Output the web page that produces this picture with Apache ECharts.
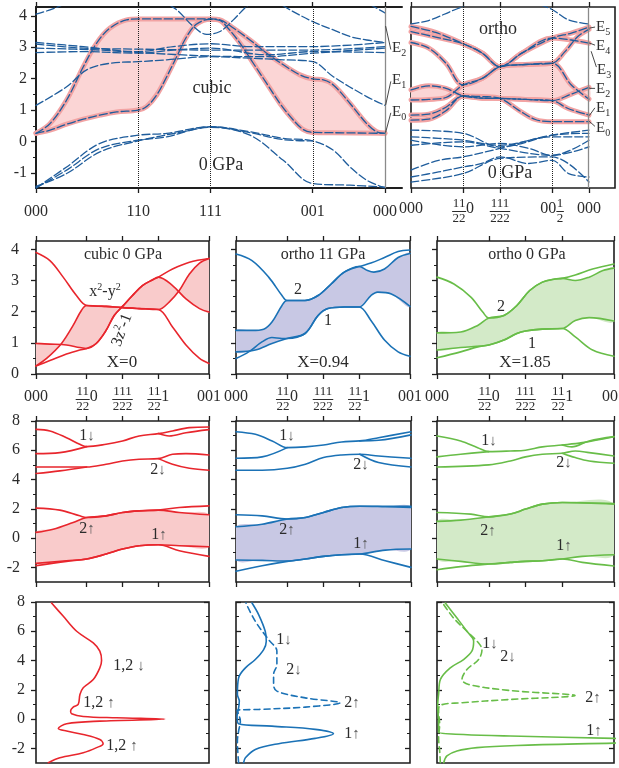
<!DOCTYPE html>
<html><head><meta charset="utf-8">
<script src="https://cdn.jsdelivr.net/npm/echarts@6/dist/echarts.min.js"></script>
<style>html,body{margin:0;padding:0;background:#fff}#c{width:619px;height:768px}</style>
</head><body><div id="c"></div>
<script>
// ---------- axes / ticks ----------
const nodesC = [0, 1.414, 2.414, 3.828, 4.828];
const labelsC = ['000', '110', '111', '001', '000'];
const nodesO = [0, 0.707, 1.207, 1.914, 2.414];
const labelsO = ['000', '½½0', '½½½', '00½', '000'];
const nodesK = [0, 0.707, 1.207, 1.707, 2.414];
const labelsK = ['000', '½½0', '½½½', '½½1', '001'];
const yTicks1 = [-1, 0, 1, 2, 3, 4];
const yTicks2 = [0, 1, 2, 3, 4];
const yTicks3 = [-2, 0, 2, 4, 6, 8];

// ---------- row 1: cubic 0 GPa ----------
const cubUp = [[0,0.26],[0.194,0.57],[0.424,1.32],[0.655,2.38],[0.839,3.13],[1.024,3.61],[1.254,3.87],[1.414,3.90],[1.9,3.90],[2.414,3.90],[2.545,3.87],[2.73,3.61],[2.96,3.23],[3.191,2.81],[3.421,2.44],[3.652,2.12],[3.828,1.99],[3.975,1.96],[4.113,1.80],[4.344,1.21],[4.574,0.57],[4.712,0.31],[4.828,0.26]];
const cubLo = [[0,0.26],[0.194,0.36],[0.424,0.55],[0.655,0.71],[0.885,0.84],[1.116,0.94],[1.414,1.00],[1.53,1.11],[1.669,1.48],[1.808,2.06],[1.946,2.70],[2.085,3.34],[2.223,3.74],[2.414,3.89],[2.545,3.85],[2.637,3.66],[2.822,3.13],[3.006,2.49],[3.191,1.85],[3.375,1.21],[3.56,0.68],[3.698,0.38],[3.828,0.29],[4.113,0.28],[4.828,0.26]];
const cubD1 = [[0,4.05],[0.194,4.19],[0.424,4.4],[0.56,4.56]];
const cubD2 = [[1.715,4.51],[1.946,4.19],[2.177,3.66],[2.361,3.41],[2.545,3.5],[2.73,3.87],[2.914,4.3],[3.053,4.51]];
const cubD3 = [[3.283,4.51],[3.514,4.19],[3.823,3.82],[4.113,3.55],[4.344,3.34],[4.574,3.23],[4.828,3.15]];
const cubD4 = [[4.482,4.51],[4.666,4.30],[4.828,4.09]];
const cubG1 = [[0,3.15],[0.655,3.02],[1.414,2.86],[1.9,3.02],[2.414,3.11],[2.96,3.02],[3.828,3.02],[4.828,3.15]];
const cubG2 = [[0,3.10],[0.655,2.97],[1.414,2.94],[2.414,2.91],[3.191,2.91],[3.828,2.91],[4.828,3.02]];
const cubG3 = [[0,2.97],[0.885,2.91],[1.414,2.83],[2.414,2.72],[3.191,2.70],[3.828,2.81],[4.828,2.97]];
const cubG4 = [[0,2.83],[0.655,2.86],[1.414,2.81],[1.9,2.91],[2.414,2.97],[3.191,2.76],[3.828,2.86],[4.828,2.83]];
const cubB = [[0,1.15],[0.424,1.74],[0.701,2.28],[1.024,2.49],[1.414,2.54],[1.808,2.6],[2.414,2.7],[2.96,2.65],[3.421,2.6],[3.828,2.54],[4.113,2.06],[4.574,1.43],[4.828,1.15]];
const cubL1 = [[0,-1.48],[0.424,-0.81],[0.885,-0.06],[1.414,0.2],[1.808,0.26],[2.414,0.47],[2.96,0.31],[3.421,0.1],[3.828,0.02],[4.113,-0.28],[4.344,-0.81],[4.574,-1.23],[4.828,-1.48]];
const cubL2 = [[0,-1.48],[0.424,-0.91],[0.885,-0.22],[1.414,0.04],[1.808,0.15],[2.414,0.47],[2.96,0.28],[3.421,0.06],[3.828,0.02]];
const cubL3 = [[0,-1.43],[0.424,-1.02],[0.885,-0.33],[1.414,0.02],[2.038,0.31],[2.414,0.45],[2.96,0.2],[3.421,-0.6],[3.828,-1.34],[4.344,-1.39],[4.828,-1.45]];
const cubLead = [[[4.838,3.66],[4.907,2.94]], [[4.838,1.17],[4.907,1.9]], [[4.838,0.3],[4.907,0.9]]];

// ---------- row 1: ortho 0 GPa ----------
const ortA = [[0,3.66],[0.335,3.47],[0.707,3.11],[0.968,2.81],[1.207,2.38],[1.503,2.81],[1.914,3.29],[2.175,3.45],[2.414,3.64]];
const ortB = [[0,3.5],[0.335,3.32],[0.707,3.11],[0.968,2.81],[1.207,2.38],[1.503,2.81],[1.914,3.29],[2.175,3.23],[2.414,3.13]];
const ortC = [[0,3.15],[0.242,2.97],[0.474,2.49],[0.707,1.80],[0.968,2.01],[1.207,2.38],[1.549,2.45],[1.914,2.49],[2.088,2.86],[2.262,3.34],[2.414,3.57]];
const ortU = [[0,1.64],[0.242,1.77],[0.474,1.69],[0.707,1.45],[0.968,1.38],[1.207,1.37],[1.549,1.34],[1.914,1.30],[2.175,1.51],[2.414,1.72]];
const ortV = [[0,1.32],[0.242,1.34],[0.474,1.40],[0.707,1.80],[0.968,2.01],[1.207,2.38],[1.549,2.45],[1.914,2.49],[2.175,1.80],[2.414,1.35]];
const ortE = [[0,0.84],[0.242,0.87],[0.474,1.09],[0.707,1.45],[0.968,1.43],[1.207,1.37],[1.458,1.0],[1.686,0.70],[1.914,0.63],[2.175,0.63],[2.414,0.63]];
const ortF = [[0,0.68],[0.242,0.71],[0.474,0.98],[0.707,1.45],[0.968,1.38],[1.207,1.37],[1.549,1.34],[1.914,1.30],[2.131,1.05],[2.414,0.84]];
const ortD1 = [[0,0.36],[0.707,0.26],[1.207,-0.17],[1.914,0.20],[2.414,0.36]];
const ortD2 = [[0,0.15],[0.374,0.10],[0.707,0.04],[1.207,-0.12],[1.914,0.15],[2.414,0.15]];
const ortD3 = [[0,0.04],[0.707,-0.17],[1.207,-0.06],[1.595,-0.22],[1.914,-0.44],[2.414,0.04]];
const ortD4 = [[0,-0.12],[0.707,-0.01],[1.207,-0.22],[1.914,-0.44],[2.414,-0.17]];
const ortD5 = [[0,-0.91],[0.374,-0.60],[0.707,-0.49],[1.207,-0.22],[1.914,0.20],[2.414,0.26]];
const ortD6 = [[0,-1.13],[0.374,-0.97],[0.707,-0.81],[0.959,-0.70],[1.207,-0.49],[1.595,-0.70],[1.914,-0.60],[2.138,-1.02],[2.414,-1.13]];
const ortD7 = [[0,-1.29],[0.707,-1.02],[1.207,-0.54],[1.914,-0.49],[2.414,-1.29]];
const ortT1 = [[0,3.74],[0.24,3.85],[0.55,4.15],[0.707,4.3]];
const ortT2 = [[1.75,4.35],[1.914,4.2],[2.138,3.87],[2.414,3.74]];
const ortLead = [[[2.424,3.61],[2.491,3.64]], [[2.424,3.13],[2.491,3.07]], [[2.445,2.86],[2.513,2.38]], [[2.424,1.69],[2.491,1.69]], [[2.424,0.84],[2.491,1.06]], [[2.424,0.63],[2.491,0.49]]];

// ---------- row 2 ----------
const redA = [[0,3.90],[0.194,3.64],[0.379,3.11],[0.564,2.52],[0.707,2.20],[0.978,2.17],[1.207,2.13],[1.439,2.10],[1.707,2.07],[1.905,1.51],[2.093,0.93],[2.282,0.50],[2.414,0.34]];
const redX = [[0,0.26],[0.148,0.50],[0.356,0.98],[0.518,1.56],[0.633,2.04],[0.707,2.20],[0.978,2.17],[1.207,2.13],[1.439,2.10],[1.707,2.07],[1.858,2.31],[1.999,2.68],[2.141,3.21],[2.282,3.56],[2.414,3.71]];
const redZ = [[0,0.98],[0.194,0.96],[0.425,0.93],[0.61,0.85],[0.707,0.82],[0.84,0.98],[0.978,1.40],[1.091,1.88],[1.207,2.17],[1.346,2.52],[1.485,2.84],[1.624,3.02],[1.707,3.11],[1.905,2.84],[2.093,2.41],[2.282,2.10],[2.414,1.99]];
const redC = [[0,0.26],[0.194,0.43],[0.425,0.64],[0.61,0.77],[0.707,0.82],[0.84,0.98],[0.978,1.40],[1.091,1.88],[1.207,2.17],[1.346,2.52],[1.485,2.84],[1.624,3.02],[1.707,3.11],[1.905,3.37],[2.141,3.59],[2.414,3.71]];
const blueA = [[0,3.85],[0.222,3.64],[0.453,3.11],[0.638,2.52],[0.707,2.36],[0.957,2.36],[1.139,2.52],[1.32,2.89],[1.502,3.27],[1.707,3.45],[1.872,3.56],[2.06,3.74],[2.249,3.93],[2.414,3.98]];
const blueB2 = [[0,1.40],[0.222,1.40],[0.384,1.44],[0.499,1.67],[0.638,2.20],[0.707,2.36],[0.957,2.36],[1.139,2.52],[1.32,2.89],[1.502,3.27],[1.707,3.45],[1.825,3.32],[1.913,3.27],[2.06,3.37],[2.249,3.74],[2.414,3.87]];
const blueB1 = [[0,0.71],[0.268,0.77],[0.499,0.98],[0.707,1.14],[0.957,1.30],[1.139,1.88],[1.275,2.10],[1.502,2.15],[1.707,2.15],[1.872,2.52],[1.966,2.63],[2.155,2.57],[2.414,2.17]];
const blueD = [[0,0.50],[0.176,0.71],[0.36,1.03],[0.499,1.17],[0.638,1.14],[0.707,1.14],[0.957,1.30],[1.139,1.88],[1.275,2.10],[1.502,2.15],[1.707,2.15],[1.872,1.72],[2.06,1.09],[2.249,0.71],[2.414,0.57]];
const greenA = [[0,3.11],[0.231,2.89],[0.462,2.47],[0.624,1.99],[0.707,1.80],[0.913,1.88],[1.089,2.20],[1.264,2.68],[1.437,2.95],[1.611,3.05],[1.707,3.07],[1.886,3.18],[2.122,3.37],[2.414,3.53]];
const greenB2 = [[0,1.32],[0.323,1.35],[0.555,1.56],[0.707,1.80],[0.913,1.88],[1.089,2.20],[1.264,2.68],[1.437,2.95],[1.611,3.05],[1.707,3.07],[1.886,3.0],[2.075,3.11],[2.263,3.32],[2.414,3.40]];
const greenB1 = [[0,0.77],[0.323,0.85],[0.707,0.93],[0.913,1.09],[1.089,1.30],[1.207,1.38],[1.437,1.44],[1.707,1.46],[1.886,1.72],[2.075,1.81],[2.414,1.70]];
const greenD = [[0,0.52],[0.323,0.71],[0.555,0.87],[0.707,0.93],[0.913,1.09],[1.089,1.30],[1.207,1.38],[1.437,1.44],[1.707,1.46],[1.886,1.19],[2.122,0.77],[2.414,0.57]];

// ---------- row 3 ----------
const r3a = [[0,7.43],[0.194,7.32],[0.425,6.86],[0.61,6.41],[0.707,6.25],[0.978,6.41],[1.207,6.64],[1.439,6.98],[1.707,7.14],[1.905,7.32],[2.141,7.55],[2.414,7.59]];
const r3b = [[1.707,7.14],[1.858,6.98],[2.093,7.2],[2.414,7.41]];
const r3c = [[0,5.77],[0.333,5.84],[0.707,6.25]];
const r3d = [[0,4.86],[0.425,4.86],[0.707,4.86],[0.978,5.05],[1.207,5.27],[1.439,5.39],[1.707,5.43],[1.905,5.73],[2.093,5.77],[2.414,5.68]];
const r3e = [[1.707,5.43],[1.905,5.05],[2.141,4.77],[2.414,4.64]];
const r3f = [[0,4.41],[0.333,4.59],[0.707,4.86]];
const r3g = [[0,2.05],[0.333,1.91],[0.61,1.52],[0.707,1.41],[0.978,1.52],[1.207,1.75],[1.439,1.86],[1.707,1.91],[1.999,2.09],[2.414,2.20]];
const r3Up = [[0,0.39],[0.24,0.61],[0.518,1.07],[0.707,1.41],[0.978,1.52],[1.207,1.75],[1.439,1.86],[1.707,1.91],[1.999,1.75],[2.414,1.59]];
const r3Lo = [[0,-1.73],[0.425,-1.55],[0.707,-1.43],[0.978,-1.09],[1.207,-0.75],[1.439,-0.52],[1.707,-0.45],[1.999,-0.52],[2.414,-0.59]];
const r3h = [[0,-1.89],[0.425,-1.59],[0.707,-1.43],[0.978,-1.09],[1.207,-0.75],[1.439,-0.52],[1.707,-0.45],[1.999,-0.86],[2.414,-1.25]];
const b3a = [[0,7.27],[0.268,7.09],[0.499,6.64],[0.707,6.18],[0.957,6.23],[1.207,6.36],[1.457,6.57],[1.707,6.64],[1.966,6.86],[2.414,7.27]];
const b3b = [[1.707,6.64],[1.966,6.68],[2.414,7.05]];
const b3c = [[0,5.45],[0.36,5.55],[0.707,6.18]];
const b3d = [[0,4.64],[0.36,4.64],[0.707,4.77],[0.957,5.05],[1.207,5.5],[1.457,5.68],[1.707,5.73],[1.966,5.61],[2.414,5.45]];
const b3e = [[1.707,5.73],[1.966,5.16],[2.414,4.86]];
const b3g = [[0,1.59],[0.36,1.52],[0.707,1.30],[0.957,1.41],[1.207,1.75],[1.457,2.09],[1.707,2.18],[2.06,2.18],[2.414,2.18]];
const b3Up = [[0,0.77],[0.36,0.95],[0.707,1.30],[0.957,1.41],[1.207,1.75],[1.457,2.09],[1.707,2.18],[2.06,2.14],[2.414,2.09]];
const b3Lo = [[0,-1.5],[0.36,-1.52],[0.707,-1.57],[0.957,-1.43],[1.207,-1.25],[1.457,-1.14],[1.707,-1.09],[2.06,-0.82],[2.414,-0.75]];
const b3h = [[0,-2.27],[0.36,-1.89],[0.707,-1.59],[0.957,-1.43],[1.207,-1.25],[1.457,-1.14],[1.707,-1.09],[2.06,-1.55],[2.414,-2.0]];
const g3a = [[0,6.98],[0.323,6.64],[0.555,6.18],[0.707,5.91],[1.001,5.95],[1.207,6.0],[1.437,6.23],[1.707,6.36],[1.981,6.52],[2.414,6.93]];
const g3b = [[1.707,6.36],[1.839,6.23],[2.075,6.64],[2.414,6.93]];
const g3c = [[0,5.55],[0.323,5.73],[0.707,5.91]];
const g3d = [[0,4.86],[0.707,5.0],[1.001,5.27],[1.207,5.55],[1.437,5.73],[1.707,5.80],[1.886,5.95],[2.075,5.84],[2.414,5.61]];
const g3e = [[1.707,5.80],[1.886,5.5],[2.075,5.27],[2.414,5.11]];
const g3g = [[0,1.75],[0.462,1.64],[0.707,1.45],[1.001,1.64],[1.207,1.98],[1.437,2.32],[1.707,2.43],[2.414,2.36]];
const g3Up = [[0,1.14],[0.323,1.23],[0.707,1.45],[1.001,1.64],[1.207,1.98],[1.437,2.32],[1.707,2.43],[2.414,2.32]];
const g3Lo = [[0,-1.43],[0.323,-1.59],[0.707,-1.77],[1.001,-1.66],[1.207,-1.59],[1.437,-1.55],[1.707,-1.43],[1.981,-1.25],[2.414,-1.14]];
const g3h = [[0,-2.16],[0.323,-1.95],[0.707,-1.77],[1.001,-1.66],[1.207,-1.59],[1.437,-1.55],[1.707,-1.43],[1.981,-1.66],[2.414,-1.91]];

// ---------- row 4: DOS [dos, energy] ----------
const redDos = [[0.071,-2.98],[0.138,-2.64],[0.273,-2.3],[0.35,-1.95],[0.388,-1.68],[0.369,-1.39],[0.273,-1.05],[0.177,-0.82],[0.129,-0.64],[0.177,-0.32],[0.369,-0.14],[0.744,0],[0.465,0.09],[0.273,0.18],[0.206,0.36],[0.20,0.55],[0.215,0.82],[0.244,1.0],[0.254,1.68],[0.273,2.14],[0.331,2.7],[0.369,3.5],[0.379,4.0],[0.369,4.64],[0.331,5.2],[0.235,6.0],[0.158,7.02],[0.09,7.93]];
const blueDos1 = [[0.044,-2.98],[0.054,-2.64],[0.111,-2.07],[0.245,-1.68],[0.455,-1.32],[0.56,-1.0],[0.455,-0.7],[0.206,-0.48],[0.015,-0.32],[0.006,0.2],[0.015,0.77],[0.019,1.23],[0.008,1.68],[0.015,2.82],[0.054,3.5],[0.111,4.07],[0.159,4.75],[0.174,5.32],[0.168,6.0],[0.13,7.14],[0.092,7.93]];
const blueDos2 = [[0.015,-2.98],[0.01,-2.18],[0.008,-1.5],[0.015,-0.82],[0.025,-0.14],[0.015,0.32],[0.006,0.59],[0.13,0.66],[0.398,0.82],[0.598,1.11],[0.398,1.45],[0.235,1.91],[0.216,2.36],[0.216,3.05],[0.235,3.73],[0.235,4.64],[0.187,5.43],[0.111,6.68],[0.057,7.93]];
const greenDos1 = [[0.038,-2.98],[0.056,-2.52],[0.113,-2.18],[0.226,-1.95],[0.45,-1.8],[1.0,-1.64],[1.5,-1.48],[1.0,-1.32],[0.414,-1.16],[0.15,-1.05],[0.009,-0.89],[0.009,-0.36],[0.004,1.0],[0.009,1.68],[0.019,2.7],[0.075,3.5],[0.15,4.07],[0.197,4.64],[0.207,5.32],[0.169,6.0],[0.113,6.9],[0.047,7.93]];
const greenDos2 = [[0.019,-2.98],[0.015,-2.18],[0.009,-1.27],[0.015,-0.36],[0.009,0.55],[0.019,0.95],[0.132,1.11],[0.414,1.34],[0.78,1.61],[0.414,1.95],[0.179,2.36],[0.141,2.7],[0.169,3.39],[0.235,4.07],[0.254,4.75],[0.235,5.2],[0.169,6.0],[0.094,6.9],[0.032,7.93]];

// ================= styling / construction =================
const F = '"Liberation Serif","Times New Roman",serif';
const TXT = '#2b2b2b', AX = '#1e1e1e';
const RED = '#e8262d', BLUE = '#1b72b6', GREEN = '#68bd48';
const PINKF = '#fbd5d5', PINKL = '#f2a3a3', DB = '#1f5d9c';

function nearest(arr, v) { let bi = 0, bd = Infinity; arr.forEach((a, i) => { const d = Math.abs(a - v); if (d < bd) { bd = d; bi = i; } }); return bi; }
function fracLabel(s) {
  if (s.indexOf('½') < 0) return '{m|' + s + '}';
  const groups = s.match(/½+|[^½]+/g);
  let top = '', mid = '', bot = '';
  groups.forEach(g => {
    const k = g.length;
    if (g[0] === '½') { top += '{n|' + '1'.repeat(k) + '}'; mid += '{b' + k + '| }'; bot += '{n|' + '2'.repeat(k) + '}'; }
    else { top += '{s' + k + '| }'; mid += '{d|' + g + '}'; bot += '{s' + k + '| }'; }
  });
  return top + '\n' + mid + '\n' + bot;
}
const fracRich = {
  m: { fontSize: 16, lineHeight: 21, fontFamily: F, color: TXT },
  n: { fontSize: 13, lineHeight: 12, fontFamily: F, color: TXT },
  d: { fontSize: 16, lineHeight: 3, height: 8, verticalAlign: 'bottom', fontFamily: F, color: TXT },
  b1: { width: 7.5, height: 1, lineHeight: 3, backgroundColor: TXT },
  b2: { width: 14, height: 1, lineHeight: 3, backgroundColor: TXT },
  b3: { width: 20.5, height: 1, lineHeight: 3, backgroundColor: TXT },
  s1: { width: 8, lineHeight: 12 }, s2: { width: 16, lineHeight: 12 }, s3: { width: 24, lineHeight: 12 }
};

const gridDefs = [
  [36, 7, 366, 181, false], [411, 7, 204, 181, true],
  [36, 241, 173, 133, true], [236, 241, 174, 133, true], [437, 241, 177, 133, true],
  [36, 421, 173, 161, true], [236, 421, 175, 161, true], [437, 421, 177, 161, true],
  [36, 602, 173, 161, true], [236, 602, 174, 161, true], [437, 602, 177, 161, true]
];
const grid = gridDefs.map(g => ({ left: g[0], top: g[1], width: g[2], height: g[3], show: g[4], borderColor: AX, borderWidth: 1.6, backgroundColor: 'transparent', containLabel: false, outerBoundsMode: 'none' }));

const xAxis = [], yAxis = [], yMinor = [], yExtra = [];
function addX(gi, max, nodes, labels, o) {
  const tick = { show: !!o.ticks, customValues: nodes, length: 5, inside: false, lineStyle: { color: AX, width: 1.3 } };
  const line = { show: !!o.line, onZero: false, lineStyle: { color: AX, width: 2 } };
  const vis = o.hidden ? false : true;
  xAxis.push({ type: 'value', show: vis, gridIndex: gi, position: 'bottom', min: 0, max, splitLine: { show: false }, axisLine: line, axisTick: tick,
    axisLabel: o.labels ? { show: true, customValues: nodes, margin: o.margin, color: TXT, fontFamily: F, fontSize: 16, rich: fracRich, formatter: v => fracLabel(labels[nearest(nodes, v)]) } : { show: false } });
  xAxis.push({ type: 'value', show: vis, gridIndex: gi, position: 'top', min: 0, max, splitLine: { show: false }, axisLine: line, axisTick: tick, axisLabel: { show: false } });
}
function yDef(gi, min, max, vals, o, len, label, pos) {
  return { type: 'value', gridIndex: gi, position: pos || 'left', min, max, splitLine: { show: false },
    axisLine: { show: !!o.line && !!label, onZero: false, lineStyle: { color: AX, width: 2 } },
    axisTick: { show: !o.noTicks, customValues: vals, length: len, inside: !!o.inside, lineStyle: { color: AX, width: len > 4 ? 1.3 : 1 } },
    axisLabel: label && o.labels ? { show: true, customValues: o.labelVals || vals, showMinLabel: true, showMaxLabel: true, hideOverlap: false, margin: o.margin, color: TXT, fontFamily: F, fontSize: 16 } : { show: false } };
}
function mids(t, min, max) { const r = []; const st = t[1] - t[0]; for (let v = t[0] - st / 2; v < max; v += st) if (v > min && v < max) r.push(+v.toFixed(3)); return r; }
function addY(gi, min, max, ticks, o) {
  yAxis[gi] = yDef(gi, min, max, ticks, o, 5, true);
  yMinor.push(yDef(gi, min, max, mids(ticks, min, max), o, 3, false));
  if (o.right) {
    yExtra.push(yDef(gi, min, max, ticks, { inside: true }, 5, false, 'right'));
    yExtra.push(yDef(gi, min, max, mids(ticks, min, max), { inside: true }, 3, false, 'right'));
  }
}
// row 1
addX(0, 5.063, nodesC, labelsC, { ticks: true, line: true, labels: true, margin: 13 });
addX(1, 2.767, nodesO, labelsO, { ticks: true, labels: true, margin: 10 });
addY(0, -1.48, 4.28, yTicks1, { line: true, labels: true, margin: 9 });
addY(1, -1.48, 4.28, yTicks1, { noTicks: true });
// row 2
for (let i = 2; i <= 4; i++) { addX(i, 2.414, nodesK, labelsK, { ticks: true, labels: true, margin: 12 }); addY(i, 0, 4.27, yTicks2, { labels: i === 2, margin: 17 }); }
// row 3
for (let i = 5; i <= 7; i++) { addX(i, 2.414, nodesK, labelsK, { ticks: true }); addY(i, -3, 8, yTicks3, { labels: i === 5, margin: 16 }); }
// row 4 (its top "8" label is drawn as a separate top-layer text placed from the axis scale)
const row4TopLabel = yTicks3[yTicks3.length - 1];
for (let i = 8; i <= 10; i++) { addX(i, 1, nodesK, [], { hidden: true }); addY(i, -3, 8, yTicks3, { labels: i === 8, labelVals: yTicks3.slice(0, -1), margin: 11, inside: i !== 8, right: true }); }

const series = [];
function ln(gi, data, color, width, type, z, smooth) {
  series.push({ type: 'line', xAxisIndex: gi * 2, yAxisIndex: gi, data, symbol: 'none', showSymbol: false, smooth: smooth === undefined ? 0.35 : smooth,
    silent: true, z: z || 3, animation: false, lineStyle: { color, width, type: type || 'solid', cap: 'round', join: 'round' }, emphasis: { disabled: true } });
}
function fill(gi, up, lo, color) {
  series.push({ type: 'custom', xAxisIndex: gi * 2, yAxisIndex: gi, coordinateSystem: 'cartesian2d', silent: true, z: 1, clip: true, animation: false,
    data: [up[0]],
    renderItem: (params, api) => {
      const pts = up.map(p => api.coord(p)).concat(lo.slice().reverse().map(p => api.coord(p)));
      return { type: 'polygon', shape: { points: pts, smooth: 0.35 }, style: { fill: color }, silent: true };
    } });
}
function vlines(gi, nodes) {
  const d = nodes.slice(1, nodes.length - 1).map(v => ({ xAxis: v }));
  d.push({ xAxis: nodes[nodes.length - 1], lineStyle: { type: 'solid', color: '#8a8a8a', width: 1.3 } });
  series.push({ type: 'line', xAxisIndex: gi * 2, yAxisIndex: gi, data: [], silent: true, animation: false,
    markLine: { silent: true, animation: false, symbol: ['none', 'none'], label: { show: false }, lineStyle: { type: 'dotted', color: '#222', width: 1 }, data: d } });
}
const DASH = [8, 3];
// panel 1
fill(0, cubUp, cubLo, PINKF);
[cubUp, cubLo].forEach(d => ln(0, d, PINKL, 5, 'solid', 2));
[cubUp, cubLo, cubD1, cubD2, cubD3, cubD4, cubG1, cubG2, cubG3, cubG4, cubB, cubL1, cubL2, cubL3].forEach(d => ln(0, d, DB, 1.3, DASH, 4));
vlines(0, nodesC);
cubLead.forEach(d => ln(0, d, '#333', 0.9, 'solid', 5, false));
// ortho
fill(1, ortU, ortV, PINKF);
[ortA, ortB, ortC, ortU, ortV, ortE, ortF].forEach(d => ln(1, d, PINKL, 5, 'solid', 2));
[ortA, ortB, ortC, ortU, ortV, ortE, ortF, ortD1, ortD2, ortD3, ortD4, ortD5, ortD6, ortD7, ortT1, ortT2].forEach(d => ln(1, d, DB, 1.3, DASH, 4));
vlines(1, nodesO);
ortLead.forEach(d => ln(1, d, '#333', 0.9, 'solid', 5, false));
// row 2
fill(2, redX, redZ, '#f9cbcb'); [redA, redX, redZ, redC].forEach(d => ln(2, d, RED, 1.6));
fill(3, blueB2, blueB1, '#c8c8e4'); [blueA, blueB2, blueB1, blueD].forEach(d => ln(3, d, BLUE, 1.6));
fill(4, greenB2, greenB1, '#d3eac8'); [greenA, greenB2, greenB1, greenD].forEach(d => ln(4, d, GREEN, 1.6));
// row 3
fill(5, r3Up, r3Lo, '#f9cbcb'); [r3a, r3b, r3c, r3d, r3e, r3f, r3g, r3Up, r3Lo, r3h].forEach(d => ln(5, d, RED, 1.6));
fill(6, b3Up, b3Lo, '#c8c8e4'); [b3a, b3b, b3c, b3d, b3e, b3g, b3Up, b3Lo, b3h].forEach(d => ln(6, d, BLUE, 1.6));
fill(7, g3Up, g3Lo, '#d3eac8'); [g3a, g3b, g3c, g3d, g3e, g3g, g3Up, g3Lo, g3h].forEach(d => ln(7, d, GREEN, 1.6));
// row 4
ln(8, redDos, RED, 1.6);
ln(9, blueDos1, BLUE, 1.6); ln(9, blueDos2, BLUE, 1.6, [6, 4]);
ln(10, greenDos1, GREEN, 1.6); ln(10, greenDos2, GREEN, 1.6, [6, 4]);

// ---------- annotations ----------
const annRich = {
  sup: { fontSize: 10, verticalAlign: 'top', fontFamily: F, fill: TXT },
  sub: { fontSize: 10, verticalAlign: 'bottom', fontFamily: F, fill: TXT },
  ar: { fontSize: 15, fontFamily: F, fill: '#555' }
};
const notes = [
  [212, 88, 'cubic', 18], [221, 165, '0 GPa', 18], [498, 29, 'ortho', 18], [510, 173, '0 GPa', 18],
  [392, 48, 'E{sub|2}', 15, 'left'], [392, 80, 'E{sub|1}', 15, 'left'], [392, 112, 'E{sub|0}', 15, 'left'],
  [596, 27, 'E{sub|5}', 15, 'left'], [596, 46, 'E{sub|4}', 15, 'left'], [597, 70, 'E{sub|3}', 15, 'left'],
  [596, 89, 'E{sub|2}', 15, 'left'], [596, 108, 'E{sub|1}', 15, 'left'], [596, 128, 'E{sub|0}', 15, 'left'],
  [123, 255, 'cubic 0 GPa', 16], [105, 292, 'x{sup|2}-y{sup|2}', 16], [122, 330, '3z{sup|2}-1', 16, 'center', 1.22], [122, 363, 'X=0', 17],
  [323, 255, 'ortho 11 GPa', 16], [298, 290, '2', 16], [328, 321, '1', 16], [323, 363, 'X=0.94', 17],
  [527, 255, 'ortho 0 GPa', 16], [501, 307, '2', 16], [532, 344, '1', 16], [525, 363, 'X=1.85', 17],
  [87, 436, '1{ar|↓}', 16], [158, 470, '2{ar|↓}', 16], [87, 529, '2{ar|↑}', 16], [159, 535, '1{ar|↑}', 16],
  [287, 436, '1{ar|↓}', 16], [361, 465, '2{ar|↓}', 16], [287, 530, '2{ar|↑}', 16], [361, 544, '1{ar|↑}', 16],
  [489, 441, '1{ar|↓}', 16], [564, 463, '2{ar|↓}', 16], [488, 531, '2{ar|↑}', 16], [564, 546, '1{ar|↑}', 16],
  [129, 666, '1,2 {ar|↓}', 16], [99, 703, '1,2 {ar|↑}', 16], [122, 746, '1,2 {ar|↑}', 16],
  [284, 640, '1{ar|↓}', 16], [294, 670, '2{ar|↓}', 16], [352, 703, '2{ar|↑}', 16], [352, 734, '1{ar|↑}', 16],
  [490, 644, '1{ar|↓}', 16], [508, 657, '2{ar|↓}', 16], [593, 698, '2{ar|↑}', 16], [594, 731, '1{ar|↑}', 16]
];
const graphic = notes.map(n => ({ type: 'text', x: n[0], y: n[1], rotation: n[5] || 0, silent: true, z: 100,
  style: { text: n[2], x: 0, y: 0, align: n[4] || 'center', verticalAlign: 'middle', fontSize: n[3], fontFamily: F, lineHeight: 20, fill: TXT, rich: annRich } }));

const chart = echarts.init(document.getElementById('c'), null, { renderer: 'canvas' });
chart.setOption({
  animation: false, backgroundColor: '#fff', textStyle: { fontFamily: F },
  grid, xAxis, yAxis: yAxis.concat(yMinor, yExtra), series, graphic
});

// top tick label of row 4: positioned through that panel's own axes, drawn on a separate top layer
let p8 = null;
try { p8 = chart.convertToPixel({ xAxisIndex: 16, yAxisIndex: 8 }, [0, row4TopLabel]); } catch (e) { p8 = null; }
if (!p8 || !isFinite(p8[0]) || !isFinite(p8[1])) p8 = [gridDefs[8][0], gridDefs[8][1]];
const topLabel = new echarts.graphic.Text({
  x: p8[0] - 11, y: p8[1], zlevel: 5, z: 1000, silent: true,
  style: { text: String(row4TopLabel), align: 'right', verticalAlign: 'middle', fontSize: 16, fontFamily: F, fill: TXT }
});
chart.getZr().add(topLabel);
</script></body></html>
